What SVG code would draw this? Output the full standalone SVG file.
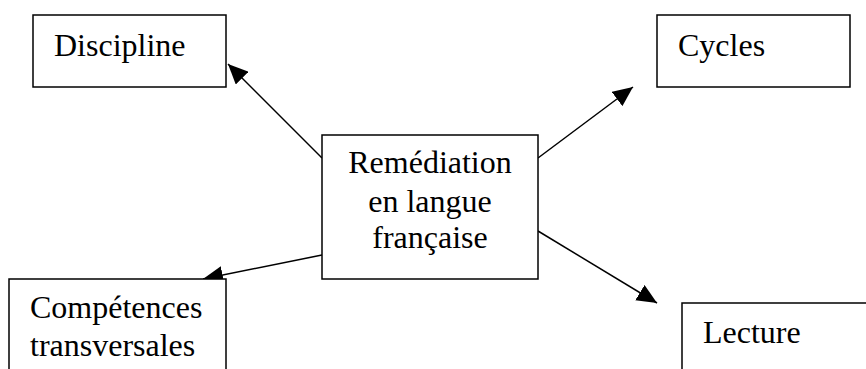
<svg xmlns="http://www.w3.org/2000/svg" width="866" height="369" viewBox="0 0 866 369">
<style>
.box{fill:#fff;stroke:#000;stroke-width:1.5}
.t{font-family:"Liberation Serif","Times New Roman",serif;font-size:32px;fill:#000}
.c{stroke:#000;stroke-width:1.5;fill:none;marker-end:url(#ah)}
</style>
<defs>
<marker id="ah" viewBox="0 0 20 18" refX="20" refY="9" markerWidth="20" markerHeight="18" markerUnits="userSpaceOnUse" orient="auto">
<path d="M0,0 L20,9 L0,18 z" fill="#000"/>
</marker>
</defs>
<rect width="866" height="369" fill="#fff"/>
<g id="connectors">
<line class="c" x1="322" y1="158" x2="228" y2="64"/>
<line class="c" x1="538" y1="158" x2="633" y2="87"/>
<line class="c" x1="322" y1="255" x2="203" y2="279"/>
<line class="c" x1="538" y1="231" x2="657" y2="303"/>
</g>
<g id="center">
<rect class="box" x="322" y="135" width="216" height="144"/>
<text class="t" x="430" y="173" text-anchor="middle">Remédiation</text>
<text class="t" x="430" y="212" text-anchor="middle">en langue</text>
<text class="t" x="430" y="248" text-anchor="middle">française</text>
</g>
<g id="discipline">
<rect class="box" x="33" y="15" width="193" height="72"/>
<text class="t" x="54" y="56">Discipline</text>
</g>
<g id="cycles">
<rect class="box" x="657" y="15" width="193" height="72"/>
<text class="t" x="678" y="56">Cycles</text>
</g>
<g id="competences">
<rect class="box" x="9" y="279" width="217" height="100"/>
<text class="t" x="30" y="318">Compétences</text>
<text class="t" x="30" y="356">transversales</text>
</g>
<g id="lecture">
<rect class="box" x="682" y="303" width="200" height="80"/>
<text class="t" x="703" y="343">Lecture</text>
</g>
</svg>
